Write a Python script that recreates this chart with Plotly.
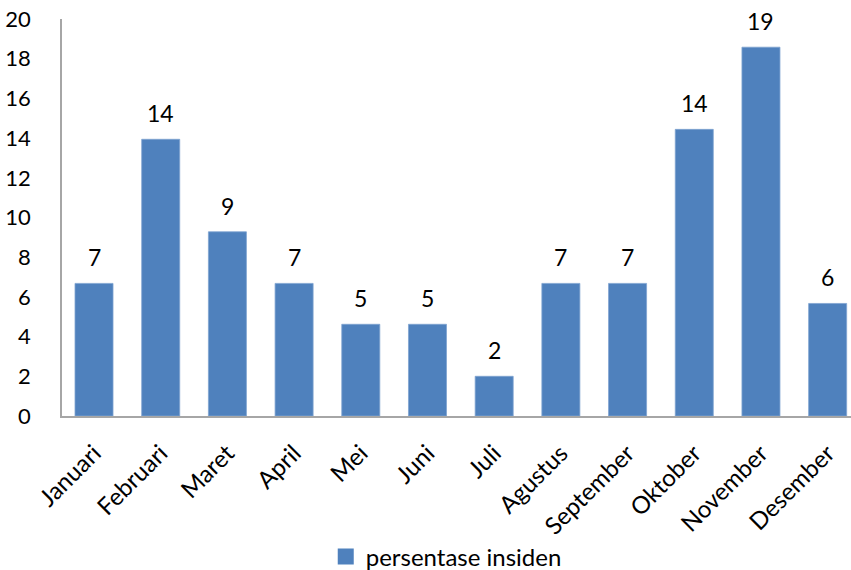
import plotly.graph_objects as go

# Monthly incident percentages
bulan = ["Januari", "Februari", "Maret", "April", "Mei", "Juni", "Juli",
         "Agustus", "September", "Oktober", "November", "Desember"]
persentase = [6.68, 13.94, 9.28, 6.68, 4.62, 4.62, 2.0, 6.68, 6.68, 14.44, 18.58, 5.67]
y_ticks = [0, 2, 4, 6, 8, 10, 12, 14, 16, 18, 20]

FONT = "Lato, 'Open Sans', sans-serif"
BAR_COLOR = "#4F81BD"
AXIS_COLOR = "#A6A6A6"

fig = go.Figure()
fig.add_trace(go.Bar(
    x=bulan,
    y=persentase,
    name="persentase insiden",
    marker=dict(color=BAR_COLOR, line=dict(color="#7FA3D0", width=0.8)),
    showlegend=False,
))

# Legend entry with a larger square swatch
fig.add_trace(go.Scatter(
    x=[None], y=[None], mode="markers",
    name="persentase insiden",
    marker=dict(symbol="square", size=16, color=BAR_COLOR),
    showlegend=True,
))

# Rounded value labels above each bar
for b, v in zip(bulan, persentase):
    fig.add_annotation(
        x=b, y=v, text=f"{v:.0f}", showarrow=False,
        yanchor="middle", yshift=26,
        font=dict(family=FONT, size=23, color="black"),
    )

fig.update_layout(
    width=851, height=570,
    margin=dict(l=62, r=0, t=19, b=154, autoexpand=False),
    paper_bgcolor="white",
    plot_bgcolor="white",
    bargap=0.43,
    font=dict(family=FONT, size=23, color="black"),
    showlegend=True,
    legend=dict(
        orientation="h",
        x=0.487, xanchor="center",
        y=-0.355, yanchor="middle",
        font=dict(family=FONT, size=24, color="black"),
        itemwidth=30,
    ),
    xaxis=dict(
        range=[-0.48, 11.35],
        tickangle=-45,
        automargin=False,
        showline=True, linecolor=AXIS_COLOR, linewidth=1.5,
        showgrid=False, ticks="",
        ticklabelstandoff=12,
        tickfont=dict(family=FONT, size=24, color="black"),
    ),
    yaxis=dict(
        range=[0, 20],
        tickvals=y_ticks,
        automargin=False,
        showline=True, linecolor=AXIS_COLOR, linewidth=1.5,
        showgrid=False, zeroline=False, ticks="",
        ticklabelstandoff=25,
        tickfont=dict(family=FONT, size=22, color="black"),
    ),
)

fig.write_html("out.html")
